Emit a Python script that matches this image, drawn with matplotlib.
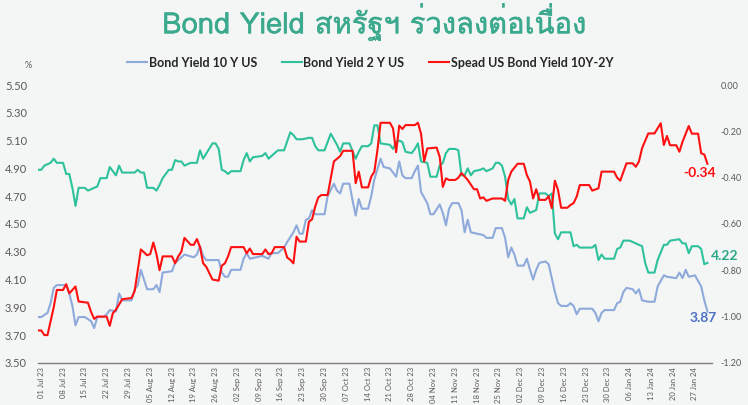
"""
Bond Yield สหรัฐฯ ร่วงลงต่อเนื่อง
10Y / 2Y (แกนซ้าย) และ spread 10Y-2Y (แกนขวา)
"""
import pandas as pd
import matplotlib
matplotlib.use("Agg")
import matplotlib.pyplot as plt
import matplotlib.dates as mdates
import matplotlib.patheffects as pe
from matplotlib import font_manager as fm, ft2font
from matplotlib.ticker import FormatStrFormatter

plt.rcParams["font.family"] = ["Lato", "DejaVu Sans"]


# หาฟอนต์ที่มีอักษรไทย
def find_thai_font():
    for f in fm.fontManager.ttflist:
        try:
            if 0x0E2A in ft2font.FT2Font(f.fname).get_charmap():
                return f.name
        except Exception:
            pass
    return None

THAI = find_thai_font()
TITLE_FAMILY = [THAI, "DejaVu Sans"] if THAI else ["DejaVu Sans"]

# ข้อมูล (นับวันจาก 30 Jun 2023)
START = pd.Timestamp("2023-06-30")

y10_day = [0, 1, 3, 4, 5, 6, 9, 10, 11, 12, 13, 15, 17, 18, 19, 21, 22, 23, 25, 26,
           27, 30, 31, 32, 33, 35, 37, 38, 39, 40, 43, 44, 46, 47, 50, 51, 52, 53, 54, 58,
           59, 60, 61, 62, 65, 66, 67, 68, 70, 72, 73, 74, 75, 77, 79, 80, 82, 83, 84, 85,
           86, 87, 88, 89, 92, 93, 95, 96, 97, 98, 100, 101, 102, 103, 104, 106, 107, 108, 110, 111,
           113, 115, 116, 117, 118, 120, 121, 122, 123, 125, 126, 127, 129, 130, 131, 132, 133, 135, 136, 137,
           138, 139, 141, 143, 144, 146, 147, 149, 150, 151, 152, 153, 154, 156, 157, 158, 159, 160, 161, 163,
           164, 166, 167, 168, 170, 171, 172, 173, 174, 178, 179, 180, 181, 182, 185, 186, 187, 188, 189, 191,
           192, 193, 194, 196, 198, 199, 201, 202, 205, 206, 207, 208, 209, 211, 213, 214, 215]
y10_val = [3.83, 3.83, 3.86, 3.93, 4.04, 4.06, 4.06, 4.00, 3.91, 3.77, 3.83, 3.83, 3.80, 3.75, 3.83, 3.83, 3.85, 3.88, 3.87, 4.00,
           3.95, 3.95, 4.03, 4.06, 4.17, 4.03, 4.03, 4.06, 4.01, 4.15, 4.16, 4.22, 4.26, 4.28, 4.26, 4.28, 4.34, 4.27, 4.24, 4.24,
           4.15, 4.12, 4.12, 4.17, 4.17, 4.25, 4.29, 4.25, 4.26, 4.27, 4.26, 4.25, 4.29, 4.29, 4.33, 4.37, 4.44, 4.49, 4.43, 4.43,
           4.53, 4.54, 4.60, 4.57, 4.57, 4.70, 4.79, 4.74, 4.72, 4.79, 4.79, 4.67, 4.56, 4.68, 4.61, 4.61, 4.70, 4.82, 4.97, 4.91,
           4.90, 4.84, 4.95, 4.85, 4.83, 4.83, 4.88, 4.92, 4.73, 4.65, 4.57, 4.57, 4.64, 4.58, 4.49, 4.61, 4.65, 4.65, 4.60, 4.44,
           4.53, 4.44, 4.43, 4.42, 4.40, 4.40, 4.47, 4.47, 4.40, 4.26, 4.33, 4.28, 4.20, 4.20, 4.25, 4.17, 4.10, 4.17, 4.22, 4.23,
           4.21, 4.01, 3.93, 3.91, 3.91, 3.93, 3.91, 3.85, 3.89, 3.89, 3.86, 3.80, 3.86, 3.88, 3.88, 3.93, 3.94, 4.01, 4.04, 4.03,
           4.00, 4.03, 3.95, 3.94, 3.94, 4.05, 4.13, 4.12, 4.11, 4.15, 4.11, 4.17, 4.12, 4.13, 4.05, 3.95, 3.87]

y2_day = [0, 1, 2, 4, 5, 6, 8, 9, 10, 11, 12, 13, 15, 16, 18, 19, 20, 22, 23, 25,
          26, 27, 31, 32, 33, 34, 35, 37, 38, 39, 40, 42, 43, 44, 45, 46, 47, 49, 51, 52,
          53, 56, 57, 58, 59, 60, 61, 62, 65, 66, 67, 68, 69, 72, 73, 74, 76, 77, 79, 81,
          82, 83, 85, 87, 88, 89, 90, 92, 94, 96, 97, 98, 100, 102, 103, 104, 106, 107, 108, 109,
          110, 113, 114, 115, 116, 117, 118, 120, 121, 122, 123, 125, 126, 128, 129, 130, 131, 132, 134, 135,
          136, 137, 138, 139, 140, 142, 143, 144, 145, 146, 147, 148, 149, 150, 151, 152, 153, 154, 156, 157,
          158, 159, 160, 161, 163, 164, 165, 166, 167, 168, 171, 172, 173, 174, 178, 179, 180, 181, 182, 185,
          186, 187, 188, 190, 191, 193, 194, 195, 196, 198, 199, 201, 202, 203, 206, 207, 208, 209, 210, 212,
          213, 214, 215]
y2_val = [4.89, 4.89, 4.92, 4.94, 4.97, 4.94, 4.94, 4.86, 4.86, 4.76, 4.63, 4.76, 4.76, 4.74, 4.76, 4.77, 4.83, 4.83, 4.91, 4.85,
          4.92, 4.87, 4.87, 4.89, 4.87, 4.87, 4.76, 4.76, 4.74, 4.78, 4.83, 4.89, 4.89, 4.96, 4.95, 4.95, 4.92, 4.94, 4.94, 5.03,
          4.97, 5.08, 5.08, 5.04, 4.89, 4.88, 4.86, 4.88, 4.88, 4.96, 5.01, 4.95, 4.98, 4.99, 5.01, 4.97, 5.01, 5.03, 5.03, 5.16,
          5.14, 5.11, 5.11, 5.12, 5.12, 5.06, 5.03, 5.03, 5.15, 5.07, 5.02, 5.08, 5.08, 4.97, 5.02, 5.06, 5.06, 5.08, 5.21, 5.21,
          5.08, 5.07, 5.04, 5.09, 5.10, 5.09, 5.02, 5.01, 5.04, 5.08, 4.95, 4.94, 4.84, 4.84, 4.92, 4.94, 5.01, 5.04, 5.04, 5.03,
          4.85, 4.85, 4.90, 4.85, 4.88, 4.89, 4.90, 4.88, 4.89, 4.90, 4.94, 4.94, 4.92, 4.84, 4.68, 4.64, 4.68, 4.54, 4.54, 4.62,
          4.58, 4.59, 4.60, 4.72, 4.72, 4.70, 4.72, 4.43, 4.39, 4.44, 4.44, 4.34, 4.35, 4.33, 4.33, 4.35, 4.24, 4.28, 4.25, 4.25,
          4.32, 4.33, 4.38, 4.38, 4.37, 4.35, 4.34, 4.22, 4.15, 4.15, 4.24, 4.35, 4.35, 4.38, 4.39, 4.36, 4.36, 4.29, 4.34, 4.34,
          4.32, 4.21, 4.22]

spread_day = [0, 1, 2, 3, 5, 6, 8, 9, 10, 11, 12, 13, 16, 17, 18, 19, 22, 23, 24, 25,
              27, 30, 31, 32, 33, 35, 36, 37, 38, 39, 40, 43, 44, 45, 46, 47, 49, 50, 51, 52,
              53, 54, 56, 58, 59, 60, 61, 62, 66, 67, 68, 69, 72, 73, 74, 75, 76, 79, 80, 81,
              82, 83, 84, 86, 87, 88, 89, 90, 91, 93, 94, 95, 97, 98, 101, 102, 103, 104, 106, 107,
              108, 109, 110, 113, 114, 115, 116, 117, 118, 121, 122, 123, 124, 125, 128, 129, 130, 131, 132, 134,
              135, 136, 137, 138, 140, 141, 142, 143, 144, 146, 149, 150, 151, 152, 154, 156, 157, 158, 159, 160,
              161, 163, 164, 165, 166, 167, 168, 170, 171, 172, 173, 174, 177, 178, 180, 181, 185, 186, 187, 189,
              191, 192, 193, 194, 196, 198, 200, 201, 202, 203, 205, 206, 207, 209, 210, 212, 213, 214, 215]
spread_val = [-1.06, -1.06, -1.08, -1.08, -0.96, -0.885, -0.885, -0.86, -0.90, -0.885, -0.87, -0.935, -0.94, -0.98, -1.01, -1.00, -1.00, -1.04, -0.985, -0.97,
              -0.925, -0.92, -0.89, -0.80, -0.71, -0.735, -0.73, -0.68, -0.73, -0.80, -0.74, -0.74, -0.77, -0.74, -0.72, -0.66, -0.69, -0.69, -0.665, -0.70,
              -0.77, -0.785, -0.84, -0.845, -0.78, -0.77, -0.74, -0.70, -0.70, -0.727, -0.706, -0.73, -0.73, -0.71, -0.73, -0.727, -0.70, -0.70, -0.745, -0.755,
              -0.77, -0.655, -0.676, -0.676, -0.59, -0.58, -0.525, -0.485, -0.475, -0.475, -0.403, -0.33, -0.307, -0.284, -0.284, -0.424, -0.374, -0.442, -0.442, -0.396,
              -0.374, -0.28, -0.163, -0.163, -0.187, -0.29, -0.175, -0.19, -0.173, -0.173, -0.163, -0.21, -0.33, -0.274, -0.27, -0.31, -0.44, -0.403, -0.41, -0.41,
              -0.40, -0.38, -0.395, -0.41, -0.45, -0.45, -0.49, -0.485, -0.50, -0.49, -0.49, -0.50, -0.41, -0.374, -0.34, -0.34, -0.389, -0.417, -0.49, -0.45,
              -0.496, -0.496, -0.48, -0.532, -0.413, -0.453, -0.53, -0.53, -0.518, -0.51, -0.482, -0.432, -0.432, -0.456, -0.446, -0.374, -0.374, -0.40, -0.413, -0.338,
              -0.338, -0.353, -0.33, -0.273, -0.209, -0.209, -0.165, -0.259, -0.22, -0.26, -0.26, -0.288, -0.245, -0.177, -0.21, -0.21, -0.295, -0.30, -0.34]

C10 = "#8eaadb"
C2 = "#2ec29c"
CSP = "#ff1010"
TICK_C = "#595959"
TITLE_C = "#3aa98d"


def to_dates(days):
    return START + pd.to_timedelta(days, unit="D")


fig = plt.figure(figsize=(7.48, 4.05), dpi=100)
fig.patch.set_facecolor("#f4f5f5")
ax = fig.add_axes([0.051, 0.104, 0.901, 0.686])
ax.set_facecolor("none")
ax2 = ax.twinx()

l10, = ax.plot(to_dates(y10_day), y10_val, color=C10, lw=1.5, label="Bond Yield 10 Y US")
l2, = ax.plot(to_dates(y2_day), y2_val, color=C2, lw=1.5, label="Bond Yield 2 Y US")
lsp, = ax2.plot(to_dates(spread_day), spread_val, color=CSP, lw=1.5,
                label="Spead US Bond Yield 10Y-2Y")

ax.set_xlim(START, START + pd.Timedelta(days=216.5))
ax.set_ylim(3.5, 5.5)
ax2.set_ylim(-1.2, 0.0)
ax.set_yticks([3.5 + 0.2 * i for i in range(11)])
ax2.set_yticks([-1.2 + 0.2 * i for i in range(7)])
ax.yaxis.set_major_formatter(FormatStrFormatter("%.2f"))
ax2.yaxis.set_major_formatter(FormatStrFormatter("%.2f"))

ticks = pd.date_range("2023-07-01", "2024-01-27", freq="7D")
ax.set_xticks(ticks)
ax.xaxis.set_major_formatter(mdates.DateFormatter("%d %b %y"))
ax.tick_params(axis="x", labelrotation=90, labelsize=5.5, colors=TICK_C, length=0, pad=3)
ax.tick_params(axis="y", labelsize=8, colors=TICK_C, length=0, pad=8)
ax2.tick_params(axis="y", labelsize=6.5, colors=TICK_C, length=0, pad=6)

for a in (ax, ax2):
    for s in ("top", "left", "right", "bottom"):
        a.spines[s].set_visible(False)
ax.spines["bottom"].set_visible(True)
ax.spines["bottom"].set_color("#7f7f7f")
ax.spines["bottom"].set_linewidth(1.0)

# ป้ายค่าล่าสุด
ax.text(0.982, 0.683, f"{spread_val[-1]:.2f}", transform=ax.transAxes, color=CSP,
        fontsize=10, fontweight="bold", ha="center", va="center")
ax.text(1.018, 0.386, f"{y2_val[-1]:.2f}", transform=ax.transAxes, color="#2aa886",
        fontsize=10, fontweight="bold", ha="center", va="center")
ax.text(0.986, 0.162, f"{y10_val[-1]:.2f}", transform=ax.transAxes, color="#4a6fc4",
        fontsize=10, fontweight="bold", ha="center", va="center")

# หัวเรื่อง + legend
fig.text(0.5, 0.945, "Bond Yield สหรัฐฯ ร่วงลงต่อเนื่อง", ha="center", va="center",
         fontsize=21, color=TITLE_C, family=TITLE_FAMILY,
         path_effects=[pe.withStroke(linewidth=0.35, foreground=TITLE_C)])
fig.text(0.038, 0.838, "%", fontsize=6.5, color=TICK_C, ha="center", va="center")
leg = fig.legend(handles=[l10, l2, lsp], loc="center", bbox_to_anchor=(0.495, 0.845),
                 ncol=3, frameon=False, handlelength=1.6, handletextpad=0.1,
                 columnspacing=2.0, prop={"weight": "bold", "size": 9.0})
for t in leg.get_texts():
    t.set_color("#262626")

fig.savefig("out.png", dpi=100, facecolor=fig.get_facecolor())
